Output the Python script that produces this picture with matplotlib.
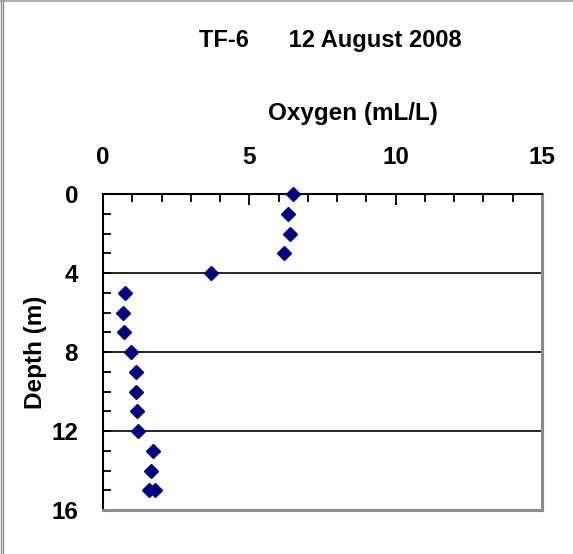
import matplotlib
matplotlib.use("Agg")
from matplotlib import pyplot as plt
from matplotlib.lines import Line2D
from matplotlib.ticker import MultipleLocator

depth = [0, 1, 2, 3, 4, 5, 6, 7, 8, 9, 10, 11, 12, 13, 14, 15, 15]
oxygen = [6.50, 6.33, 6.39, 6.20, 3.69, 0.75, 0.69, 0.72, 0.96,
          1.12, 1.13, 1.15, 1.21, 1.72, 1.63, 1.56, 1.78]
x_ticks = [0, 5, 10, 15]
y_ticks = [0, 4, 8, 12, 16]


def main():
    plt.rcParams['font.family'] = ['Liberation Sans', 'DejaVu Sans']
    plt.rcParams['font.weight'] = 'bold'

    fig = plt.figure(figsize=(5.73, 5.54), dpi=100)
    ax = fig.add_axes([103 / 573, 1 - 510 / 554, 439 / 573, 316 / 554])

    ax.plot(oxygen, depth, linestyle='none', marker='D', markersize=7.4,
            color='#000080', zorder=3, clip_on=False)

    ax.set_xlim(0, 15)
    ax.set_ylim(16, 0)
    ax.set_xticks(x_ticks)
    ax.set_yticks(y_ticks)
    ax.xaxis.set_minor_locator(MultipleLocator(1))
    ax.yaxis.set_minor_locator(MultipleLocator(1))
    ax.xaxis.tick_top()
    ax.xaxis.set_label_position('top')

    ax.tick_params(axis='both', which='both', direction='in', color='black',
                   width=1.3, labelsize=17.5)
    ax.tick_params(axis='x', which='major', length=8, pad=18)
    ax.tick_params(axis='x', which='minor', length=6)
    ax.tick_params(axis='y', which='major', length=6, pad=18)
    ax.tick_params(axis='y', which='minor', length=6)

    for y in [4, 8, 12]:
        ax.axhline(y, color='black', linewidth=1.2, zorder=1)

    ax.spines['top'].set_color('black')
    ax.spines['left'].set_color('black')
    ax.spines['top'].set_linewidth(1.5)
    ax.spines['left'].set_linewidth(1.5)
    ax.spines['right'].set_color('#8c8c8c')
    ax.spines['bottom'].set_color('#8c8c8c')
    ax.spines['right'].set_linewidth(2.2)
    ax.spines['bottom'].set_linewidth(2.2)

    ax.set_xlabel('Oxygen (mL/L)', fontsize=17.5, fontweight='bold',
                  labelpad=19)
    ax.xaxis.label.set_x((353 - 103) / 439)
    ax.set_ylabel('Depth (m)', fontsize=17.5, fontweight='bold', labelpad=3)
    fig.text(330 / 573, 1 - 40 / 554, 'TF-6      12 August 2008',
             fontsize=17, fontweight='bold', ha='center', va='center')

    # outer frame of the original screenshot
    fig.add_artist(Line2D([0.5 / 573, 0.5 / 573], [0, 1], color='#8c8c8c',
                          linewidth=1, transform=fig.transFigure))
    fig.add_artist(Line2D([3 / 573, 3 / 573], [0, 1], color='#8c8c8c',
                          linewidth=1, transform=fig.transFigure))
    fig.add_artist(Line2D([0, 1], [1 - 0.5 / 554, 1 - 0.5 / 554],
                          color='#a0a0a0', linewidth=1.2,
                          transform=fig.transFigure))

    fig.savefig('out.png', dpi=100)


if __name__ == '__main__':
    main()
